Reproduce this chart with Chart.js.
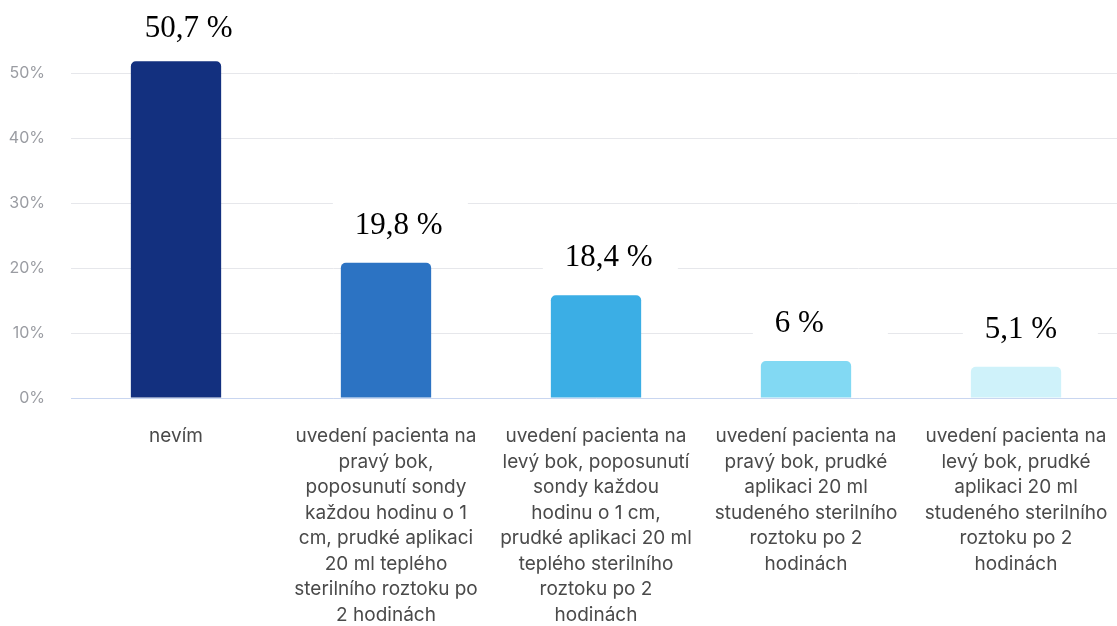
<!DOCTYPE html>
<html>
<head>
<meta charset="utf-8">
<script src="https://cdn.jsdelivr.net/npm/chart.js@4.4.1/dist/chart.umd.min.js"></script>
<style>
  html, body { margin: 0; padding: 0; background: #fff; overflow: hidden; }
  #wrap { position: relative; width: 1121px; height: 626px; }
</style>
</head>
<body>
<div id="wrap"><canvas id="c"></canvas></div>
<script>
const categories = [
  ["nevím"],
  ["uvedení pacienta na", "pravý bok,", "poposunutí sondy", "každou hodinu o 1", "cm, prudké aplikaci", "20 ml teplého", "sterilního roztoku po", "2 hodinách"],
  ["uvedení pacienta na", "levý bok, poposunutí", "sondy každou", "hodinu o 1 cm,", "prudké aplikaci 20 ml", "teplého sterilního", "roztoku po 2", "hodinách"],
  ["uvedení pacienta na", "pravý bok, prudké", "aplikaci 20 ml", "studeného sterilního", "roztoku po 2", "hodinách"],
  ["uvedení pacienta na", "levý bok, prudké", "aplikaci 20 ml", "studeného sterilního", "roztoku po 2", "hodinách"]
];
const barValues = [51.8, 20.8, 15.8, 5.7, 4.8];
const valueLabels = ["50,7 %", "19,8 %", "18,4 %", "6 %", "5,1 %"];
const barColors = ["#13307f", "#2c73c3", "#3baee5", "#82d9f3", "#cff2fa"];
const yTicks = [0, 10, 20, 30, 40, 50];

const labelPlugin = {
  id: 'valueLabels',
  afterDatasetsDraw(chart) {
    const ctx = chart.ctx;
    const meta = chart.getDatasetMeta(0);
    ctx.save();
    ctx.font = '31px "Liberation Serif", "Times New Roman", serif';
    ctx.textAlign = 'left';
    ctx.textBaseline = 'alphabetic';
    meta.data.forEach((bar, i) => {
      const left = bar.x - bar.width / 2;
      const tx = left + 14;
      const ty = Math.max(bar.y - 29, 37);
      ctx.fillStyle = '#ffffff';
      ctx.fillRect(tx - 22, ty - 32, 135, 44);
      ctx.fillStyle = '#000000';
      ctx.fillText(valueLabels[i], tx, ty);
    });
    ctx.restore();
  }
};

new Chart(document.getElementById('c'), {
  type: 'bar',
  data: {
    labels: categories,
    datasets: [{
      data: barValues,
      backgroundColor: barColors,
      borderRadius: { topLeft: 5, topRight: 5, bottomLeft: 0, bottomRight: 0 },
      borderSkipped: 'bottom',
      barPercentage: 0.43,
      categoryPercentage: 1.0
    }]
  },
  options: {
    responsive: true,
    maintainAspectRatio: false,
    animation: false,
    layout: { padding: { top: 40.5, right: 0, bottom: 0, left: 0 } },
    plugins: { legend: { display: false }, tooltip: { enabled: false } },
    scales: {
      x: {
        grid: { display: false, drawTicks: false },
        border: { display: true, color: '#c9d6f0', width: 1 },
        ticks: {
          autoSkip: false,
          maxRotation: 0,
          minRotation: 0,
          padding: 26,
          color: '#4a4a4a',
          font: { family: 'Inter', size: 19, lineHeight: 1.34 }
        },
        afterFit(scale) {
          scale.height = 228;
          scale.paddingLeft = 0;
          scale.paddingRight = 0;
        }
      },
      y: {
        min: 0,
        max: 55,
        afterBuildTicks(axis) { axis.ticks = yTicks.map(v => ({ value: v })); },
        grid: { color: '#e6e7eb', drawTicks: false, lineWidth: 1 },
        border: { display: false },
        ticks: {
          padding: 26,
          color: '#9a9ca2',
          font: { family: 'Inter', size: 16 },
          callback: v => v + '%'
        },
        afterFit(scale) { scale.width = 71; }
      }
    }
  },
  plugins: [labelPlugin]
});
</script>
</body>
</html>
